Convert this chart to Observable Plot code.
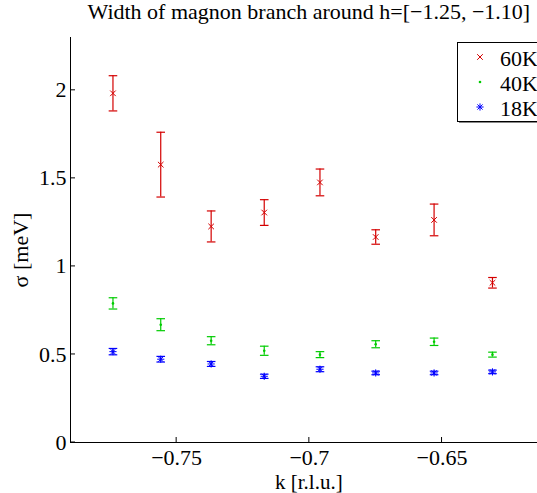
<!DOCTYPE html>
<html><head><meta charset="utf-8">
<script src="https://cdn.jsdelivr.net/npm/d3@7"></script>
<script src="https://cdn.jsdelivr.net/npm/@observablehq/plot@0.6"></script>
<style>html,body{margin:0;padding:0;background:#fff;overflow:hidden}</style>
</head><body><div id="chart"></div>
<script>
// ---- data ----
const k = [-0.774, -0.756, -0.737, -0.717, -0.696, -0.675, -0.653, -0.631];
const sigma60 = [1.983, 1.578, 1.227, 1.306, 1.477, 1.167, 1.264, 0.907];
const err60   = [0.100, 0.184, 0.088, 0.073, 0.076, 0.041, 0.090, 0.030];
const sigma40 = [0.790, 0.669, 0.578, 0.521, 0.499, 0.558, 0.572, 0.499];
const err40   = [0.032, 0.034, 0.023, 0.026, 0.017, 0.020, 0.021, 0.014];
const sigma18 = [0.516, 0.473, 0.446, 0.376, 0.416, 0.395, 0.395, 0.401];
const err18   = [0.018, 0.016, 0.014, 0.012, 0.014, 0.010, 0.010, 0.010];
const seriesNames = ["60K", "40K", "18K"];
const colors = ["#d40000", "#00cc00", "#0000ff"];
const xTicks = [-0.75, -0.7, -0.65];
const yTicks = [0, 0.5, 1, 1.5, 2];
const xDomain = [-0.79, -0.61];
const yDomain = [0, 2.3];
const titleText = "Width of magnon branch around h=[\u22121.25, \u22121.10]";
const xLabel = "k [r.l.u.]";
const yLabel = "\u03c3 [meV]";

// ---- table ----
const rows = [];
[[sigma60, err60], [sigma40, err40], [sigma18, err18]].forEach(([s, e], j) => {
  k.forEach((kk, i) => rows.push({series: seriesNames[j], k: kk, sigma: s[i], err: e[i]}));
});

const fmt = d => (d < 0 ? "\u2212" : "") + String(Math.abs(d));
const R = size => Math.sqrt(size / Math.PI);
const hline = {draw(c, size) { const r = R(size); c.moveTo(-r, 0); c.lineTo(r, 0); }};
const xmark = {draw(c, size) { const r = R(size); c.moveTo(-r, -r); c.lineTo(r, r); c.moveTo(-r, r); c.lineTo(r, -r); }};
const ast = {draw(c, size) { const r = R(size); const s = r * 0.72;
  c.moveTo(-r, 0); c.lineTo(r, 0); c.moveTo(0, -r); c.lineTo(0, r);
  c.moveTo(-s, -s); c.lineTo(s, s); c.moveTo(-s, s); c.lineTo(s, -s); }};

const W = 537, H = 493;
const FONT = "'Liberation Serif', 'Times New Roman', serif";
const FS = 22;
const colorOf = s => colors[seriesNames.indexOf(s)];

const chart = Plot.plot({
  width: W, height: H,
  marginTop: 37, marginBottom: 51, marginLeft: 70, marginRight: -10.7,
  style: {background: "white", overflow: "visible", color: "black"},
  x: {domain: xDomain, label: null},
  y: {domain: yDomain, label: null},
  marks: [
    Plot.axisX({ticks: xTicks, tickFormat: fmt, tickSize: 0, tickPadding: 7, fontSize: FS, label: null}),
    Plot.axisY({ticks: yTicks, tickFormat: fmt, tickSize: 0, tickPadding: 4, fontSize: FS, label: null}),
    Plot.ruleY([0], {stroke: "black", strokeWidth: 1}),
    Plot.ruleX([xDomain[0]], {stroke: "black", strokeWidth: 1}),
    Plot.ruleX(rows, {x: "k", y1: d => d.sigma - d.err, y2: d => d.sigma + d.err, stroke: d => colorOf(d.series), strokeWidth: 1.2}),
    Plot.dot(rows, {x: "k", y: d => d.sigma + d.err, symbol: hline, r: 4.3, fill: "none", stroke: d => colorOf(d.series), strokeWidth: 1.2}),
    Plot.dot(rows, {x: "k", y: d => d.sigma - d.err, symbol: hline, r: 4.3, fill: "none", stroke: d => colorOf(d.series), strokeWidth: 1.2}),
    Plot.dot(rows.filter(d => d.series === "60K"), {x: "k", y: "sigma", symbol: xmark, r: 2.8, fill: "none", stroke: colors[0], strokeWidth: 1}),
    Plot.dot(rows.filter(d => d.series === "40K"), {x: "k", y: "sigma", r: 1.3, fill: colors[1], stroke: "none"}),
    Plot.dot(rows.filter(d => d.series === "18K"), {x: "k", y: "sigma", symbol: ast, r: 3.6, fill: "none", stroke: colors[2], strokeWidth: 1})
  ]
});
document.getElementById("chart").appendChild(chart);

// inward tick marks using the plot's scales
const svg = d3.select(chart);
const xs = chart.scale("x"), ys = chart.scale("y");
const x0 = xs.apply(xDomain[0]), y0 = ys.apply(0);
const xR = xs.apply(xDomain[1]), yT = ys.apply(yDomain[1]);
const g = svg.append("g").attr("stroke", "black").attr("stroke-width", 1);
xTicks.forEach(t => g.append("line").attr("x1", xs.apply(t)).attr("x2", xs.apply(t)).attr("y1", y0).attr("y2", y0 - 5));
yTicks.forEach(t => g.append("line").attr("x1", x0).attr("x2", x0 + 5).attr("y1", ys.apply(t)).attr("y2", ys.apply(t)));

// title and axis labels
svg.append("text").attr("x", (x0 + xR) / 2).attr("y", 19).attr("text-anchor", "middle")
  .attr("font-size", FS).attr("fill", "black").text(titleText);
svg.append("text").attr("x", (x0 + xR) / 2).attr("y", 488.5).attr("text-anchor", "middle")
  .attr("font-size", 21).attr("fill", "black").text(xLabel);
svg.append("text").attr("transform", `translate(28,250) rotate(-90)`).attr("text-anchor", "middle")
  .attr("font-size", FS).attr("fill", "black").text(yLabel);

// legend
const lg = svg.append("g");
lg.append("rect").attr("x", 459).attr("y", 44).attr("width", 100).attr("height", 79).attr("fill", "#888");
lg.append("rect").attr("x", 457.5).attr("y", 42.5).attr("width", 100).attr("height", 79)
  .attr("fill", "white").attr("stroke", "black").attr("stroke-width", 1);
const syms = [xmark, null, ast], rs = [2.8, 1.3, 3.6];
seriesNames.forEach((s, i) => {
  const cy = 57 + 25 * i;
  if (syms[i]) {
    lg.append("path").attr("transform", `translate(480,${cy})`)
      .attr("d", d3.symbol(syms[i], rs[i] * rs[i] * Math.PI)()).attr("fill", "none").attr("stroke", colors[i]);
  } else {
    lg.append("circle").attr("cx", 480).attr("cy", cy).attr("r", rs[i]).attr("fill", colors[i]);
  }
  lg.append("text").attr("x", 500).attr("y", cy + 8.5).attr("text-anchor", "start").attr("font-size", FS)
    .attr("fill", "black").text(s);
});

// serif font on every text element
svg.selectAll("text").attr("font-family", FONT).style("font-family", FONT);
svg.selectAll("g").style("font-family", FONT);
</script>
</body></html>
